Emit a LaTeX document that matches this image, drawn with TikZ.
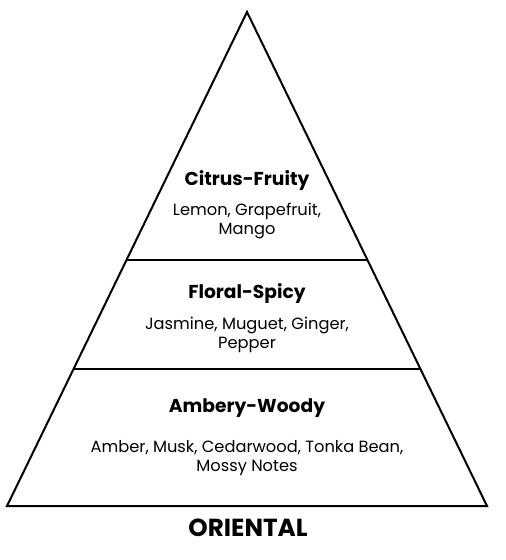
\documentclass[tikz,border=0pt]{standalone}
\usepackage{fontspec}
\setmainfont{Poppins}
\usetikzlibrary{calc}

\begin{document}
\begin{tikzpicture}[x=0.75pt,y=-0.75pt]
                \tikzset{tiertitle/.style={font=\fontsize{14}{16}\selectfont\bfseries, anchor=center},
                         tiernotes/.style={font=\fontsize{12.2}{13.8}\selectfont, align=center, anchor=center}}
                \useasboundingbox (0,0) rectangle (506,560);
                \coordinate (apex) at (247,12);
                \coordinate (baseL) at (7,506);
                \coordinate (baseR) at (487,506);
                \coordinate (upperL) at ($(apex)!0.502!(baseL)$);
                \coordinate (upperR) at ($(apex)!0.502!(baseR)$);
                \coordinate (lowerL) at ($(apex)!0.723!(baseL)$);
                \coordinate (lowerR) at ($(apex)!0.723!(baseR)$);
                \draw[line width=1.5pt, line join=miter] (apex) -- (baseL) -- (baseR) -- cycle;
                \draw[line width=1.5pt] (upperL) -- (upperR);
                \draw[line width=1.5pt] (lowerL) -- (lowerR);
                \node[tiertitle] (citrus) at (247,180) {Citrus-Fruity};
                \node[tiernotes] (citrusnotes) at (247,221) {Lemon, Grapefruit,\\Mango};
                \node[tiertitle] (floral) at (247,294) {Floral-Spicy};
                \node[tiernotes] (floralnotes) at (247,335) {Jasmine, Muguet, Ginger,\\Pepper};
                \node[tiertitle] (ambery) at (247,408) {Ambery-Woody};
                \node[tiernotes] (amberynotes) at (247,458) {Amber, Musk, Cedarwood, Tonka Bean,\\Mossy Notes};
                \node[font=\fontsize{18.5}{20}\selectfont\bfseries] (family) at (248,528) {ORIENTAL};
            \end{tikzpicture}
\end{document}
